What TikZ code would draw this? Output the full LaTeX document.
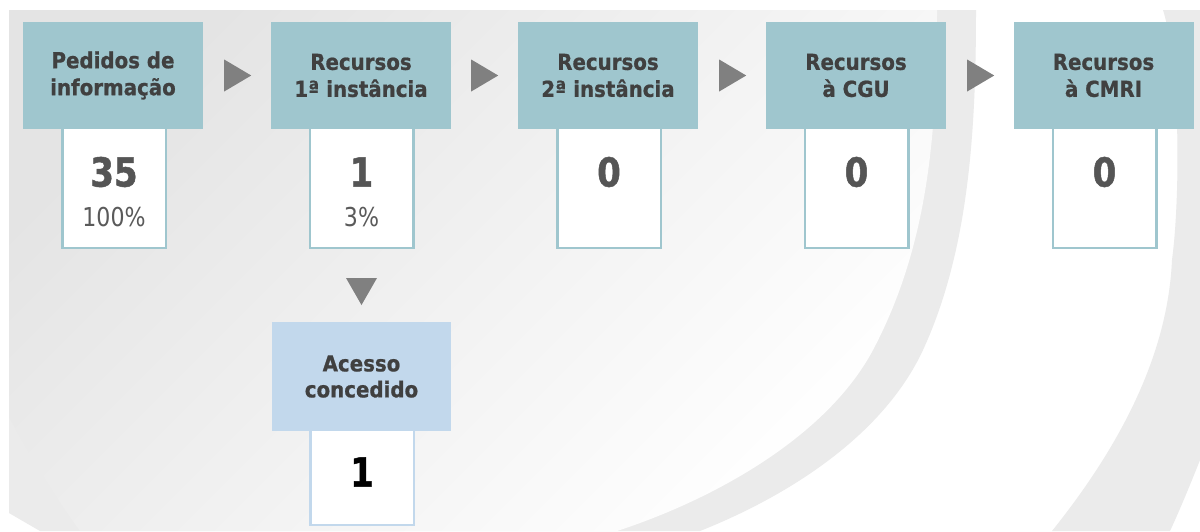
\documentclass[tikz,border=0pt]{standalone}
\usepackage{fontspec}
\setmainfont{DejaVu Sans}
\newfontfamily\numfont[FakeStretch=0.85, BoldFeatures={FakeBold=1.2}]{DejaVu Sans}
\newfontfamily\hdrfont[FakeStretch=0.9, BoldFeatures={FakeBold=0.8}]{DejaVu Sans}
\usetikzlibrary{calc}
\definecolor{hdrteal}{HTML}{9FC6CE}
\definecolor{hdrblue}{HTML}{C2D8EC}
\definecolor{hdrtext}{HTML}{404040}
\definecolor{numgray}{HTML}{555555}
\definecolor{pctgray}{HTML}{5A5A5A}
\definecolor{arrowgray}{HTML}{808080}
\definecolor{ringgray}{HTML}{EBEBEB}
\definecolor{bgtop}{HTML}{E4E4E4}
\begin{document}
\begin{tikzpicture}[x=1pt,y=-1pt,
  hdr/.style={fill=hdrteal, minimum width=180pt, minimum height=107pt, inner sep=0pt, align=center, text=hdrtext, font=\hdrfont\fontsize{22}{27}\selectfont\bfseries},
  hdrb/.style={hdr, fill=hdrblue, minimum width=179pt, minimum height=109pt, font=\hdrfont\fontsize{22}{26}\selectfont\bfseries},
  valbox/.style={draw=hdrteal, line width=2.5pt, fill=white, minimum width=103.5pt, minimum height=126.5pt, inner sep=0pt},
  valboxb/.style={valbox, draw=hdrblue, minimum height=104pt},
  bignum/.style={text=numgray, font=\numfont\fontsize{40}{40}\selectfont\bfseries, inner sep=0pt},
  pct/.style={text=pctgray, font=\numfont\fontsize{26}{26}\selectfont, inner sep=0pt},
  tri/.style={fill=arrowgray}]
\useasboundingbox (0,0) rectangle (1200,531);
% background
\fill[white] (0,0) rectangle (1200,531);
\fill[ringgray] (9,10) -- (9,513) -- (40,531) -- (700,531)
  .. controls (788,496) and (883,436) .. (923,350)
  .. controls (969,250) and (976,130) .. (976,10) -- cycle;
\begin{scope}
\clip (9,10) -- (9,417) .. controls (30,455) and (55,497) .. (80,531) -- (617,531)
  .. controls (712,500) and (826,438) .. (873,350)
  .. controls (929,244) and (937,130) .. (937,10) -- cycle;
\shade[top color=bgtop, bottom color=white, shading angle=45] (9,10) rectangle (940,531);
\end{scope}
\fill[ringgray] (1163,10) .. controls (1181,67) and (1180,201) .. (1172,260)
  .. controls (1168,350) and (1125,440) .. (1052,531) -- (1170,531)
  .. controls (1182,505) and (1192,480) .. (1200,460) -- (1200,10) -- cycle;
% value boxes
\node[valbox] (v1) at (114,184.5) {};
\node[valbox] (v2) at (361.5,184.5) {};
\node[valbox] (v3) at (609,184.5) {};
\node[valbox] (v4) at (856.5,184.5) {};
\node[valbox] (v5) at (1104.5,184.5) {};
\node[valboxb] (v6) at (362,473) {};
% headers
\node[hdr] (h1) at (113,75.5) {Pedidos de\\informação};
\node[hdr] (h2) at (361,75.5) {Recursos\\1ª instância};
\node[hdr] (h3) at (608,75.5) {Recursos\\2ª instância};
\node[hdr] (h4) at (856,75.5) {Recursos\\à CGU};
\node[hdr] (h5) at (1103.5,75.5) {Recursos\\à CMRI};
\node[hdrb] (h6) at (361.5,376.5) {Acesso\\concedido};
% numbers
\node[bignum] (n1) at (114,172) {35};
\node[pct] (p1) at (114,217) {100\%};
\node[bignum] (n2) at (361.5,172) {1};
\node[pct] (p2) at (361.5,217) {3\%};
\node[bignum] (n3) at (609,172) {0};
\node[bignum] (n4) at (856.5,172) {0};
\node[bignum] (n5) at (1104.5,172) {0};
\node[bignum, text=black] (n6) at (362,472) {1};
% arrows
\fill[tri] ($(h1.east)+(21,-16)$) -- ++(0,32) -- ++(27,-16) -- cycle;
\fill[tri] ($(h2.east)+(20,-16)$) -- ++(0,32) -- ++(27,-16) -- cycle;
\fill[tri] ($(h3.east)+(21,-16)$) -- ++(0,32) -- ++(27,-16) -- cycle;
\fill[tri] ($(h4.east)+(21,-16)$) -- ++(0,32) -- ++(27,-16) -- cycle;
\fill[tri] ($(v2.south)+(-15.5,29)$) -- ++(31,0) -- ++(-15.5,27) -- cycle;
\end{tikzpicture}
\end{document}
